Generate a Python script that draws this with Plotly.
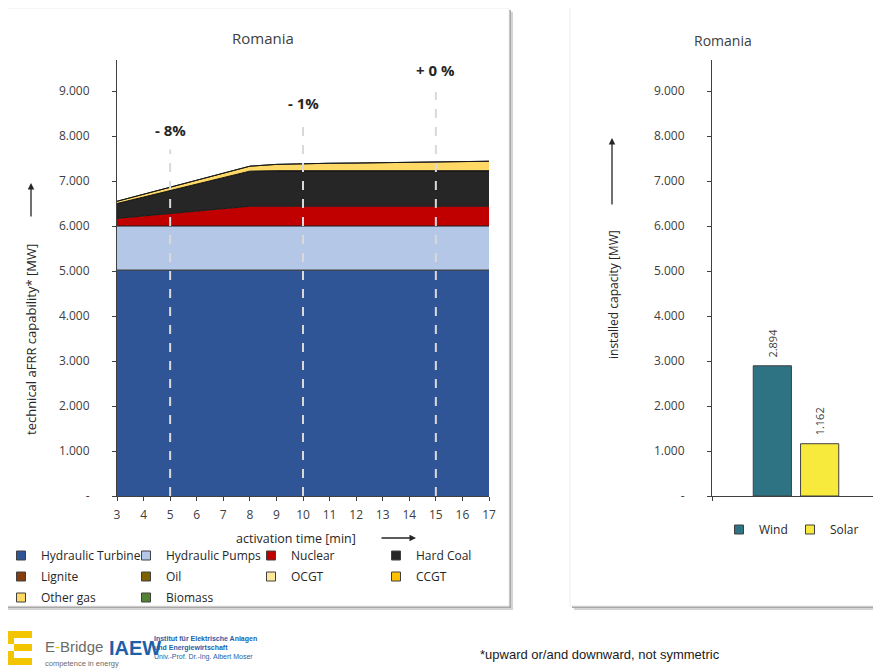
import plotly.graph_objects as go

# ---------------- data ----------------
minutes = [3, 4, 5, 6, 7, 8, 9, 10, 11, 12, 13, 14, 15, 16, 17]
hydraulic_turbine = [5020, 5020, 5020, 5020, 5020, 5020, 5020, 5020, 5020, 5020, 5020, 5020, 5020, 5020, 5020]
hydraulic_pumps = [980, 980, 980, 980, 980, 980, 980, 980, 980, 980, 980, 980, 980, 980, 980]
nuclear = [170, 224, 278, 332, 386, 440, 440, 440, 440, 440, 440, 440, 440, 440, 440]
hard_coal = [330, 420, 510, 600, 690, 780, 790, 790, 790, 790, 790, 790, 790, 790, 790]
lignite = [0, 0, 0, 0, 0, 0, 0, 0, 0, 0, 0, 0, 0, 0, 0]
oil = [0, 0, 0, 0, 0, 0, 0, 0, 0, 0, 0, 0, 0, 0, 0]
ocgt = [0, 0, 0, 0, 0, 0, 0, 0, 0, 0, 0, 0, 0, 0, 0]
ccgt = [0, 0, 0, 0, 0, 0, 0, 0, 0, 0, 0, 0, 0, 0, 0]
other_gas = [50, 62, 74, 86, 98, 110, 140, 160, 165, 170, 180, 190, 200, 205, 210]
biomass = [0, 0, 0, 0, 0, 0, 0, 0, 0, 0, 0, 0, 0, 0, 0]

pct_minutes = [5, 10, 15]
pct_labels = ["- 8%", "- 1%", "+ 0 %"]

res_tech = ["Wind", "Solar"]
res_capacity = [2894, 1162]

y_ticks = [0, 1000, 2000, 3000, 4000, 5000, 6000, 7000, 8000, 9000]
country = "Romania"

# ---------------- helpers ----------------
# the page body has an 8px margin, so the figure is drawn 8px in and 8px smaller
OFF = 8
W, H = 881 - OFF, 670 - OFF
def px(x): return (x - OFF) / W
def py(y): return 1 - (y - OFF) / H
def fmt(v): return "-" if v == 0 else f"{v:,}".replace(",", ".")

FONT = "Open Sans, DejaVu Sans, sans-serif"
TXT = "#404040"

series = [
    ("Hydraulic Turbine", hydraulic_turbine, "#2F5597", "legend"),
    ("Hydraulic Pumps", hydraulic_pumps, "#B4C7E7", "legend"),
    ("Nuclear", nuclear, "#C00000", "legend"),
    ("Hard Coal", hard_coal, "#262626", "legend"),
    ("Lignite", lignite, "#843C0C", "legend2"),
    ("Oil", oil, "#7F6000", "legend2"),
    ("OCGT", ocgt, "#FFE699", "legend2"),
    ("CCGT", ccgt, "#FFC000", "legend2"),
    ("Other gas", other_gas, "#FFD966", "legend3"),
    ("Biomass", biomass, "#548235", "legend3"),
]

fig = go.Figure()
for name, vals, col, leg in series:
    fig.add_trace(go.Scatter(
        x=minutes, y=vals, name=name, stackgroup="one", mode="lines",
        line=dict(color="#1a1a1a", width=1), fillcolor=col,
        legendgroup=name, showlegend=False, hoverinfo="x+y+name",
        xaxis="x", yaxis="y"))
for name, vals, col, leg in series:
    fig.add_trace(go.Scatter(
        x=[None], y=[None], name=name, mode="markers", legend=leg,
        marker=dict(symbol="square", size=9, color=col, line=dict(color="#404040", width=1)),
        legendgroup=name, showlegend=True, xaxis="x", yaxis="y"))

# right panel bars
bar_cols = ["#2E7384", "#F8EA3C"]
bar_offsets = [-0.256, 0.024]
bar_w = 0.226
for t, v, c, o in zip(res_tech, res_capacity, bar_cols, bar_offsets):
    fig.add_trace(go.Bar(
        x=[0], y=[v], name=t, width=bar_w, offset=o, marker=dict(color=c, line=dict(color="#404040", width=1)),
        showlegend=False, legendgroup=t, xaxis="x2", yaxis="y2"))
    fig.add_trace(go.Scatter(
        x=[None], y=[None], name=t, mode="markers", legend="legend4", legendgroup=t,
        marker=dict(symbol="square", size=9, color=c, line=dict(color="#404040", width=1)),
        xaxis="x2", yaxis="y2"))

annotations = []
shapes = []

def note(x, y, text, size, color="#262626", family=FONT, **kw):
    d = dict(x=px(x), y=py(y), xref="paper", yref="paper", text=text, showarrow=False,
             xanchor="center", yanchor="middle", font=dict(family=family, size=size, color=color))
    d.update(kw)
    annotations.append(d)

def arrow(x, y, ax, ay):
    annotations.append(dict(x=px(x), y=py(y), xref="paper", yref="paper", text="", showarrow=True,
                            ax=ax, ay=ay, arrowhead=2, arrowsize=1, arrowwidth=1.3, arrowcolor="#262626"))

def rect(x0, y0, x1, y1, fill, line=None, layer="below"):
    shapes.append(dict(type="rect", xref="paper", yref="paper", layer=layer,
                       x0=px(x0), x1=px(x1), y0=py(y1), y1=py(y0), fillcolor=fill,
                       line=line or dict(width=0)))

# panels (shadow + white box)
for (x0, y0, x1, y1) in [(3, 8, 509, 606), (570, 6, 890, 606)]:
    rect(x0 + 4, y0 + 4, x1 + 4, y1 + 4, "#d4d4d4")
    rect(x0 + 2, y0 + 2, x1 + 2, y1 + 2, "#a8a8a8")
    rect(x0, y0, x1, y1, "white", dict(color="#ededed", width=1))

# dashed markers & percentage labels
dash_tops = [7700, 8350, 8980]
label_y = [8130, 8730, 9470]
for m, lab, top, ly in zip(pct_minutes, pct_labels, dash_tops, label_y):
    shapes.append(dict(type="line", xref="x", yref="y", x0=m, x1=m, y0=0, y1=top,
                       line=dict(color="#D9D9D9", width=2, dash="dash"), layer="above"))
    annotations.append(dict(x=m, y=ly, xref="x", yref="y", text=f"<b>{lab}</b>", showarrow=False,
                            xanchor="center", yanchor="middle",
                            font=dict(family=FONT, size=15, color="#262626")))

# bar value labels
for v, o in zip(res_capacity, bar_offsets):
    annotations.append(dict(x=o + bar_w / 2, y=v, xref="x2", yref="y2", text=fmt(v), textangle=-90,
                            showarrow=False, xanchor="center", yanchor="bottom", yshift=6,
                            font=dict(family=FONT, size=11, color=TXT)))

# titles
note(263, 38, country, 15, TXT)
note(723, 40, country, 14, TXT)

# axis titles + arrows
note(31, 340, "technical aFRR capability* [MW]", 13, textangle=-90)
arrow(31, 183, 0, 35)
note(613, 295, "installed capacity [MW]", 12, textangle=-90)
arrow(612, 138, 0, 68)
note(296, 538, "activation time [min]", 12.5)
arrow(416, 538, -36, 0)

# footnote
note(478, 654, "*upward or/and downward, not symmetric", 13, "#1a1a1a",
     "Liberation Sans Narrow, Liberation Sans, Arial", xanchor="left")

# logos (approximate)
ylw = "#F2C500"
for (x0, y0, x1, y1) in [(8, 631, 32, 638), (8, 638, 14, 644), (14, 644, 32, 651), (8, 651, 14, 658), (8, 658, 32, 665)]:
    rect(x0, y0, x1, y1, ylw, layer="above")
note(43, 646, "E<span style='color:#F2C500'>-</span>Bridge", 15, "#6b6b6b", "Liberation Sans, Arial", xanchor="left")
note(43, 663, "competence in energy", 7.5, "#6b6b6b", "Liberation Sans, Arial", xanchor="left")
note(107, 648, "<b>IAEW</b>", 20, "#1F5FA8", "Liberation Sans Narrow, Liberation Sans, Arial", xanchor="left")
note(152, 648, "<b>Institut für Elektrische Anlagen<br>und Energiewirtschaft</b><br>Univ.-Prof. Dr.-Ing. Albert Moser",
     7, "#1F5FA8", "Liberation Sans Narrow, Liberation Sans, Arial", xanchor="left", align="left")

axis_common = dict(showgrid=False, zeroline=False, showline=True, linecolor="#404040", linewidth=1,
                   ticks="outside", ticklen=4, tickcolor="#404040", tickfont=dict(family=FONT, size=12, color=TXT))

legend_common = dict(orientation="h", xanchor="left", yanchor="top", bgcolor="rgba(0,0,0,0)",
                     entrywidth=90, entrywidthmode="pixels", itemwidth=30, indentation=-10,
                     font=dict(family=FONT, size=12, color="#262626"), itemclick=False, itemdoubleclick=False)

fig.update_layout(
    width=W, height=H, autosize=False,
    margin=dict(l=0, r=0, t=0, b=0, autoexpand=False),
    paper_bgcolor="white", plot_bgcolor="rgba(0,0,0,0)",
    barmode="overlay",
    xaxis=dict(domain=[px(117), px(489)], range=[3, 17], tickvals=minutes, anchor="y", ticklabelstandoff=4, **axis_common),
    yaxis=dict(domain=[py(496), py(60)], range=[0, 9690], tickvals=y_ticks, ticktext=[fmt(v) for v in y_ticks],
               anchor="x", ticklabelstandoff=20, **axis_common),
    xaxis2=dict(domain=[px(712), 1.0], range=[-0.5, 0.5], tickvals=[-0.5, 0.5], ticktext=["", ""],
                anchor="y2", **{k: v for k, v in axis_common.items() if k != "tickfont"}),
    yaxis2=dict(domain=[py(496), py(60)], range=[0, 9690], tickvals=y_ticks, ticktext=[fmt(v) for v in y_ticks],
                anchor="x2", ticklabelstandoff=20, **axis_common),
    legend=dict(x=px(11), y=py(541), **legend_common),
    legend2=dict(x=px(11), y=py(562), **legend_common),
    legend3=dict(x=px(11), y=py(583), **legend_common),
    legend4=dict(x=px(729), y=py(515), **{**legend_common, "entrywidth": 36}),
    shapes=shapes,
    annotations=annotations,
)

fig.write_html("out.html")
